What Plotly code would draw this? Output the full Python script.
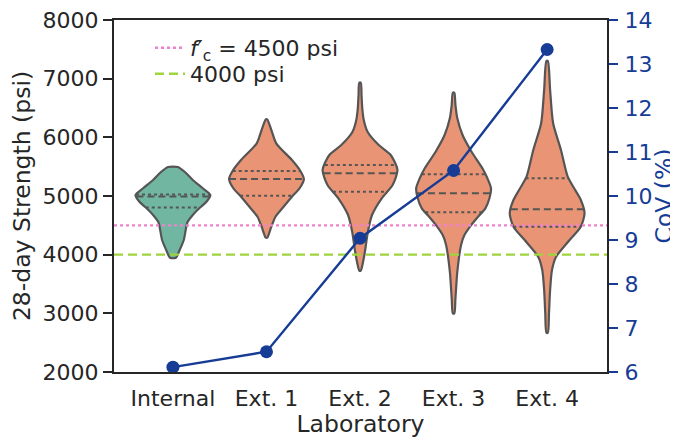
import numpy as np
import plotly.graph_objects as go

# ---------------- data ----------------
labs = ["Internal", "Ext. 1", "Ext. 2", "Ext. 3", "Ext. 4"]

# violin profiles: strength (psi, bottom -> top) and relative density (0..1)
int_psi = [3948, 4079, 4250, 4557, 4676, 4795, 4898, 5017, 5136, 5273, 5409, 5494]
int_den = [0.08, 0.18, 0.29, 0.39, 0.53, 0.71, 0.89, 1.00, 0.79, 0.53, 0.32, 0.13]

e1_psi = [4289, 4477, 4647, 4812, 4988, 5136, 5290, 5443, 5614, 5898, 6125, 6307]
e1_den = [0.02, 0.13, 0.24, 0.45, 0.68, 0.89, 1.00, 0.89, 0.68, 0.26, 0.13, 0.02]

e2_psi = [3727, 3875, 4050, 4391, 4676, 4961, 5187, 5443, 5699, 5869, 6096, 6295, 6495, 6721, 6930]
e2_den = [0.02, 0.08, 0.13, 0.21, 0.32, 0.58, 0.87, 1.00, 0.82, 0.50, 0.20, 0.10, 0.06, 0.04, 0.02]

e3_psi = [3000, 3256, 3710, 4165, 4335, 4505, 4659, 4790, 4966, 5131, 5307, 5472, 5755, 6040, 6324, 6551, 6760]
e3_den = [0.02, 0.05, 0.10, 0.20, 0.29, 0.47, 0.67, 0.85, 0.96, 1.00, 0.90, 0.77, 0.48, 0.24, 0.10, 0.05, 0.02]

e4_psi = [2670, 3000, 3398, 3739, 3965, 4250, 4477, 4705, 4932, 5102, 5329, 5784, 6239, 6807, 7300]
e4_den = [0.02, 0.05, 0.08, 0.13, 0.24, 0.60, 0.90, 1.00, 0.90, 0.75, 0.55, 0.37, 0.16, 0.08, 0.02]

# quartiles (Q1, median, Q3) in psi
q1 = [4804, 5005, 5073, 4722, 4477]
med = [4991, 5290, 5387, 5046, 4773]
q3 = [5025, 5426, 5528, 5370, 5301]

# coefficient of variation (%)
cov = [6.11, 6.46, 9.04, 10.58, 13.33]

fc_psi = 4500
min_psi = 4000

profiles_psi = [int_psi, e1_psi, e2_psi, e3_psi, e4_psi]
profiles_den = [int_den, e1_den, e2_den, e3_den, e4_den]

# ---------------- style ----------------
FONT = "DejaVu Sans"
DARK = "#262626"
EDGE = "#555555"
BLUE = "#163c96"
FILLS = ["#71b6a0", "#e99575", "#e99575", "#e99575", "#e99575"]
HALF_W = 0.4
XR = [-0.63, 4.64]

fig = go.Figure()

for i, (ps, dn) in enumerate(zip(profiles_psi, profiles_den)):
    ps = np.array(ps, float)
    dn = np.array(dn, float)
    xs = np.concatenate([i + HALF_W * dn, (i - HALF_W * dn)[::-1]])
    ys = np.concatenate([ps, ps[::-1]])
    xs = np.append(xs, xs[0])
    ys = np.append(ys, ys[0])
    fig.add_trace(go.Scatter(x=xs, y=ys, mode="lines", fill="toself",
                             fillcolor=FILLS[i],
                             line=dict(color=EDGE, width=2.2, shape="spline", smoothing=0.7),
                             showlegend=False, hoverinfo="skip"))
    for q, dash in [(q1[i], "dot"), (med[i], "7px,4px"), (q3[i], "dot")]:
        w = HALF_W * np.interp(q, ps, dn)
        fig.add_trace(go.Scatter(x=[i - w, i + w], y=[q, q], mode="lines",
                                 line=dict(color=EDGE, width=2, dash=dash),
                                 showlegend=False, hoverinfo="skip"))

fig.add_trace(go.Scatter(x=XR, y=[fc_psi, fc_psi], mode="lines",
                         line=dict(color="#ee82cc", width=2.4, dash="dot"),
                         name="<i>f</i>′<sub>c</sub> = 4500 psi", legend="legend"))
fig.add_trace(go.Scatter(x=XR, y=[min_psi, min_psi], mode="lines",
                         line=dict(color="#9fd43c", width=2.4, dash="9px,5px"),
                         name="4000 psi", legend="legend2"))

fig.add_trace(go.Scatter(x=list(range(len(labs))), y=cov, yaxis="y2",
                         mode="lines+markers", line=dict(color=BLUE, width=2.4),
                         marker=dict(color=BLUE, size=13), showlegend=False))

leg_common = dict(xanchor="left", yanchor="middle", bgcolor="rgba(0,0,0,0)",
                  font=dict(size=22, color=DARK))

fig.update_layout(
    width=670, height=434,
    margin=dict(l=106, r=71, t=12, b=70, autoexpand=False),
    paper_bgcolor="white", plot_bgcolor="white",
    font=dict(family=FONT, size=22, color=DARK),
    xaxis=dict(range=XR, tickvals=list(range(len(labs))), ticktext=labs,
               showgrid=False, zeroline=False, showline=True, mirror=True,
               linecolor=DARK, linewidth=2.2, ticks="outside", ticklen=5,
               tickcolor="rgba(0,0,0,0)", automargin=False,
               ticklabeloverflow="allow",
               title=dict(text="Laboratory", font=dict(size=23.5), standoff=2)),
    yaxis=dict(range=[2000, 8000], tickvals=list(range(2000, 8001, 1000)),
               showgrid=False, zeroline=False, showline=True, automargin=False,
               ticklabeloverflow="allow",
               linecolor=DARK, linewidth=2.2, ticks="outside", ticklen=9,
               tickwidth=1.8, tickcolor=DARK,
               title=dict(text="28-day Strength (psi)", font=dict(size=23.5), standoff=6)),
    yaxis2=dict(range=[6, 14], tickvals=list(range(6, 15)), overlaying="y",
                side="right", showgrid=False, zeroline=False, showline=True,
                automargin=False, ticklabeloverflow="allow",
                linecolor=DARK, linewidth=2.2, ticks="outside", ticklen=9,
                tickwidth=1.8, tickcolor=BLUE, tickfont=dict(color=BLUE),
                ticklabelstandoff=2,
                title=dict(text="CoV (%)", font=dict(size=23.5, color=BLUE), standoff=0)),
    legend=dict(x=0.073, y=0.9205, **leg_common),
    legend2=dict(x=0.073, y=0.8466, **leg_common),
    showlegend=True,
)

fig.write_html("out.html")
